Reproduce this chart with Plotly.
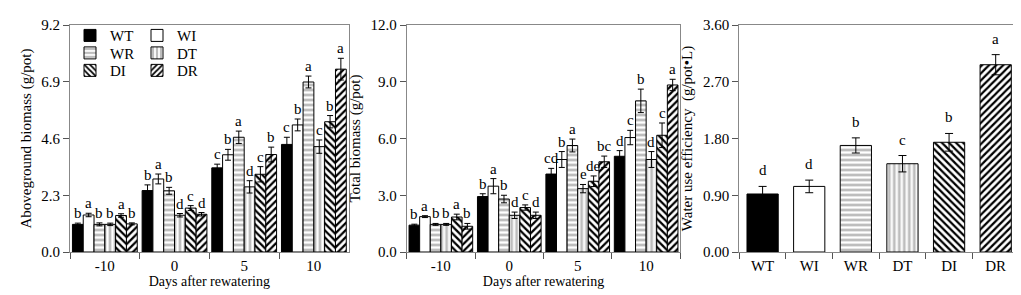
import plotly.graph_objects as go

# ---------------- data ----------------
days = ["-10", "0", "5", "10"]
treatments = ["WT", "WI", "WR", "DT", "DI", "DR"]

# Aboveground biomass (g/pot)
above_WT = [1.12, 2.49, 3.41, 4.36]
above_WI = [1.50, 2.96, 3.94, 5.15]
above_WR = [1.12, 2.48, 4.65, 6.89]
above_DT = [1.12, 1.49, 2.64, 4.27]
above_DI = [1.48, 1.78, 3.15, 5.28]
above_DR = [1.14, 1.53, 3.95, 7.41]
above_err_WT = [0.05, 0.23, 0.15, 0.29]
above_err_WI = [0.07, 0.20, 0.22, 0.24]
above_err_WR = [0.06, 0.14, 0.25, 0.24]
above_err_DT = [0.05, 0.07, 0.25, 0.27]
above_err_DI = [0.07, 0.10, 0.31, 0.25]
above_err_DR = [0.04, 0.07, 0.30, 0.44]
above_let_WT = ["b", "b", "c", "c"]
above_let_WI = ["a", "a", "b", "b"]
above_let_WR = ["b", "b", "a", "a"]
above_let_DT = ["b", "d", "d", "c"]
above_let_DI = ["a", "c", "c", "b"]
above_let_DR = ["b", "d", "b", "a"]

# Total biomass (g/pot)
total_WT = [1.42, 2.93, 4.12, 5.06]
total_WI = [1.87, 3.48, 4.89, 6.05]
total_WR = [1.46, 2.80, 5.63, 7.99]
total_DT = [1.46, 1.94, 3.35, 4.89]
total_DI = [1.85, 2.35, 3.74, 6.17]
total_DR = [1.36, 1.94, 4.77, 8.83]
total_err_WT = [0.05, 0.15, 0.30, 0.30]
total_err_WI = [0.05, 0.40, 0.42, 0.38]
total_err_WR = [0.05, 0.20, 0.34, 0.62]
total_err_DT = [0.05, 0.17, 0.22, 0.42]
total_err_DI = [0.15, 0.14, 0.28, 0.65]
total_err_DR = [0.15, 0.17, 0.30, 0.30]
total_let_WT = ["b", "b", "cd", "d"]
total_let_WI = ["a", "a", "b", "c"]
total_let_WR = ["b", "b", "a", "b"]
total_let_DT = ["b", "d", "e", "d"]
total_let_DI = ["a", "c", "de", "c"]
total_let_DR = ["b", "d", "bc", "a"]

# Water use efficiency (g/pot*L)
wue = [0.92, 1.04, 1.69, 1.40, 1.74, 2.97]
wue_err = [0.12, 0.10, 0.12, 0.13, 0.14, 0.16]
wue_let = ["d", "d", "b", "c", "b", "a"]

above = [above_WT, above_WI, above_WR, above_DT, above_DI, above_DR]
above_err = [above_err_WT, above_err_WI, above_err_WR, above_err_DT, above_err_DI, above_err_DR]
above_let = [above_let_WT, above_let_WI, above_let_WR, above_let_DT, above_let_DI, above_let_DR]
total = [total_WT, total_WI, total_WR, total_DT, total_DI, total_DR]
total_err = [total_err_WT, total_err_WI, total_err_WR, total_err_DT, total_err_DI, total_err_DR]
total_let = [total_let_WT, total_let_WI, total_let_WR, total_let_DT, total_let_DI, total_let_DR]

# ---------------- styles ----------------
FONT = "Liberation Serif"
styles = {
    "WT": dict(shape="", bg="black", fg="black"),
    "WI": dict(shape="", bg="white", fg="white"),
    "WR": dict(shape="-", bg="#bdbdbd", fg="white"),
    "DT": dict(shape="|", bg="#bdbdbd", fg="white"),
    "DI": dict(shape="\\", bg="white", fg="black"),
    "DR": dict(shape="/", bg="white", fg="black"),
}
legend_of = {"WT": "legend", "WI": "legend", "WR": "legend2", "DT": "legend2",
             "DI": "legend3", "DR": "legend3"}
GAP12 = 0.07
GAP3 = 0.33
LETTER = dict(family=FONT, size=15, color="black")

def pattern(t):
    s = styles[t]
    return dict(shape=s["shape"], bgcolor=s["bg"], fgcolor=s["fg"],
                size=5, solidity=0.45, fillmode="replace")

fig = go.Figure()
annotations = []

n = len(treatments)
for panel, (vals, errs, lets, xa, ya) in enumerate(
        [(above, above_err, above_let, "x", "y"),
         (total, total_err, total_let, "x2", "y2")]):
    w = (1 - GAP12) / n
    for i, t in enumerate(treatments):
        fig.add_trace(go.Bar(
            x=days, y=vals[i], name=t, xaxis=xa, yaxis=ya,
            marker=dict(color=styles[t]["bg"], line=dict(color="black", width=1),
                        pattern=pattern(t)),
            error_y=dict(type="data", array=errs[i], color="black",
                         thickness=1, width=3),
            showlegend=(panel == 0), legend=legend_of[t], legendgroup=t,
        ))
        off = -(1 - GAP12) / 2 + (i + 0.5) * w
        for j in range(len(days)):
            annotations.append(dict(
                x=j + off, y=vals[i][j] + errs[i][j], xref=xa, yref=ya,
                text=lets[i][j], showarrow=False, yanchor="bottom", yshift=0,
                font=LETTER))

for i, t in enumerate(treatments):
    fig.add_trace(go.Bar(
        x=[t], y=[wue[i]], xaxis="x3", yaxis="y3", showlegend=False, name=t,
        marker=dict(color=styles[t]["bg"], line=dict(color="black", width=1),
                    pattern=pattern(t)),
        error_y=dict(type="data", array=[wue_err[i]], color="black",
                     thickness=1, width=4),
        offsetgroup="wue", width=1 - GAP3,
    ))
    annotations.append(dict(
        x=i, y=wue[i] + wue_err[i], xref="x3", yref="y3", text=wue_let[i],
        showarrow=False, yanchor="bottom", yshift=6, font=LETTER))

W = 1021
L, R = 62, 9
pw = W - L - R
def dom(a, b):
    return [(a - L) / pw, (b - L) / pw]

axis_common = dict(showline=True, linecolor="#888888", linewidth=1, mirror=True,
                   ticks="outside", ticklen=6, tickcolor="#555555",
                   showgrid=False, zeroline=False,
                   tickfont=dict(family=FONT, size=15, color="black"))
xcat = dict(axis_common, type="category", tickson="boundaries")

fig.update_layout(
    width=W, height=295,
    margin=dict(l=L, r=R, t=10, b=51),
    paper_bgcolor="white", plot_bgcolor="white",
    barmode="group", bargap=GAP12, bargroupgap=0,
    font=dict(family=FONT, size=14, color="black"),
    xaxis=dict(xcat, domain=dom(62, 341), anchor="y",
               title=dict(text="Days after rewatering", standoff=2,
                          font=dict(family=FONT, size=14))),
    xaxis2=dict(xcat, domain=dom(399, 673), anchor="y2",
                title=dict(text="Days after rewatering", standoff=2,
                           font=dict(family=FONT, size=14))),
    xaxis3=dict(xcat, domain=dom(732, 1012), anchor="y3"),
    yaxis=dict(axis_common, range=[0, 9.2], tickvals=[0, 2.3, 4.6, 6.9, 9.2],
               tickformat=".1f", anchor="x",
               title=dict(text="Aboveground biomass (g/pot)", standoff=6,
                          font=dict(family=FONT, size=15))),
    yaxis2=dict(axis_common, range=[0, 12], tickvals=[0, 3, 6, 9, 12],
                tickformat=".1f", anchor="x2",
                title=dict(text="Total biomass (g/pot)", standoff=6,
                           font=dict(family=FONT, size=15))),
    yaxis3=dict(axis_common, range=[0, 3.6], tickvals=[0, 0.9, 1.8, 2.7, 3.6],
                tickformat=".2f", anchor="x3",
                title=dict(text="Water use efficiency  (g/pot\u2022L)", standoff=6,
                           font=dict(family=FONT, size=15))),
    annotations=annotations,
)
leg_common = dict(orientation="h", xanchor="left", yanchor="middle",
                  entrywidth=22, entrywidthmode="pixels", itemwidth=30,
                  bgcolor="rgba(0,0,0,0)", font=dict(family=FONT, size=15),
                  tracegroupgap=0, x=0.0)
fig.update_layout(
    legend=dict(leg_common, y=0.953),
    legend2=dict(leg_common, y=0.876),
    legend3=dict(leg_common, y=0.799),
)

fig.write_html("out.html")
